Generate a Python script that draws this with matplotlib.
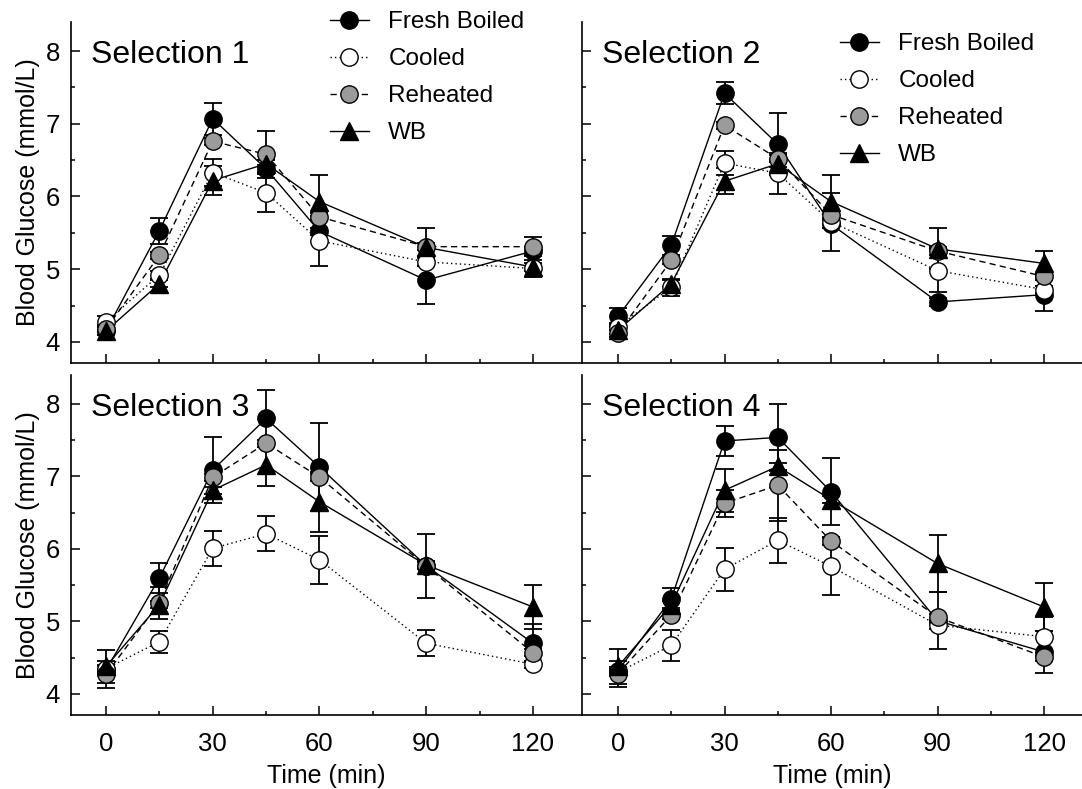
import matplotlib
matplotlib.use('Agg')
import matplotlib.pyplot as plt
from matplotlib.ticker import MultipleLocator
from matplotlib.lines import Line2D

plt.rcParams['font.family'] = ['Liberation Sans', 'DejaVu Sans']

# ---------------- data ----------------
time_min = [0, 15, 30, 45, 60, 90, 120]
series_names = ['Fresh Boiled', 'Cooled', 'Reheated', 'WB']
panel_titles = ['Selection 1', 'Selection 2', 'Selection 3', 'Selection 4']
x_ticks = [0, 30, 60, 90, 120]
y_ticks = [4, 5, 6, 7, 8]
x_label = 'Time (min)'
y_label = 'Blood Glucose (mmol/L)'

# Selection 1
s1_fresh = [4.15, 5.53, 7.07, 6.38, 5.52, 4.85, 5.25]
s1_cooled = [4.28, 4.92, 6.33, 6.05, 5.39, 5.10, 5.01]
s1_reheated = [4.18, 5.19, 6.76, 6.58, 5.72, 5.31, 5.31]
s1_wb = [4.15, 4.80, 6.22, 6.45, 5.93, 5.30, 5.03]
s1_fresh_sem = [0.05, 0.18, 0.22, 0.05, 0.05, 0.33, 0.05]
s1_cooled_sem = [0.08, 0.05, 0.19, 0.26, 0.34, 0.05, 0.12]
s1_reheated_sem = [0.05, 0.05, 0.05, 0.32, 0.05, 0.05, 0.13]
s1_wb_sem = [0.05, 0.05, 0.20, 0.05, 0.37, 0.26, 0.05]

# Selection 2
s2_fresh = [4.35, 5.33, 7.42, 6.72, 5.62, 4.55, 4.65]
s2_cooled = [4.21, 4.75, 6.46, 6.32, 5.65, 4.98, 4.72]
s2_reheated = [4.12, 5.12, 6.98, 6.52, 5.75, 5.25, 4.90]
s2_wb = [4.16, 4.80, 6.21, 6.45, 5.93, 5.28, 5.08]
s2_fresh_sem = [0.12, 0.13, 0.15, 0.43, 0.05, 0.05, 0.23]
s2_cooled_sem = [0.05, 0.12, 0.17, 0.28, 0.40, 0.30, 0.05]
s2_reheated_sem = [0.05, 0.05, 0.05, 0.05, 0.05, 0.05, 0.05]
s2_wb_sem = [0.05, 0.05, 0.18, 0.05, 0.37, 0.28, 0.17]

# Selection 3
s3_fresh = [4.33, 5.60, 7.09, 7.80, 7.13, 5.77, 4.70]
s3_cooled = [4.35, 4.72, 6.01, 6.21, 5.85, 4.70, 4.41]
s3_reheated = [4.27, 5.26, 6.99, 7.46, 6.99, 5.76, 4.57]
s3_wb = [4.38, 5.23, 6.81, 7.16, 6.65, 5.78, 5.20]
s3_fresh_sem = [0.05, 0.21, 0.45, 0.39, 0.61, 0.05, 0.26]
s3_cooled_sem = [0.05, 0.15, 0.24, 0.24, 0.33, 0.18, 0.05]
s3_reheated_sem = [0.19, 0.22, 0.05, 0.05, 0.05, 0.44, 0.05]
s3_wb_sem = [0.23, 0.05, 0.05, 0.29, 0.41, 0.05, 0.31]

# Selection 4
s4_fresh = [4.32, 5.31, 7.49, 7.54, 6.79, 5.01, 4.58]
s4_cooled = [4.30, 4.67, 5.72, 6.12, 5.76, 4.95, 4.79]
s4_reheated = [4.28, 5.09, 6.63, 6.88, 6.11, 5.06, 4.51]
s4_wb = [4.38, 5.23, 6.81, 7.14, 6.68, 5.80, 5.20]
s4_fresh_sem = [0.05, 0.15, 0.21, 0.46, 0.46, 0.39, 0.29]
s4_cooled_sem = [0.05, 0.21, 0.30, 0.31, 0.39, 0.05, 0.27]
s4_reheated_sem = [0.18, 0.05, 0.19, 0.49, 0.05, 0.05, 0.05]
s4_wb_sem = [0.24, 0.05, 0.30, 0.05, 0.05, 0.39, 0.33]

panels = [
    ([s1_fresh, s1_cooled, s1_reheated, s1_wb], [s1_fresh_sem, s1_cooled_sem, s1_reheated_sem, s1_wb_sem]),
    ([s2_fresh, s2_cooled, s2_reheated, s2_wb], [s2_fresh_sem, s2_cooled_sem, s2_reheated_sem, s2_wb_sem]),
    ([s3_fresh, s3_cooled, s3_reheated, s3_wb], [s3_fresh_sem, s3_cooled_sem, s3_reheated_sem, s3_wb_sem]),
    ([s4_fresh, s4_cooled, s4_reheated, s4_wb], [s4_fresh_sem, s4_cooled_sem, s4_reheated_sem, s4_wb_sem]),
]

# ---------------- styles ----------------
GRAY = '#9b9b9b'
styles = [
    dict(marker='o', mfc='black', ls='-'),
    dict(marker='o', mfc='white', ls=(0, (1, 2.2))),
    dict(marker='o', mfc=GRAY, ls=(0, (4.5, 3))),
    dict(marker='^', mfc='black', ls='-'),
]
MS = 12.5
LW = 1.0
FS_TICK = 18.5
FS_LABEL = 18
FS_TITLE = 23
FS_LEG = 17.5

W, H = 1082, 789
fig = plt.figure(figsize=(W / 100, H / 100), dpi=100)

def px_axes(l, t, r, b):
    return fig.add_axes([l / W, 1 - b / H, (r - l) / W, (b - t) / H])

axes = [
    px_axes(71, 22, 582, 363),
    px_axes(582, 22, 1082, 363),
    px_axes(71, 375, 582, 715),
    px_axes(582, 375, 1082, 715),
]
xlims = [(-9.84, 133.8), (-10.14, 130.7), (-9.84, 133.8), (-10.14, 130.7)]

for k, ax in enumerate(axes):
    ys, es = panels[k]
    for i, (y, e) in enumerate(zip(ys, es)):
        ax.errorbar(time_min, y, yerr=e, fmt='none', ecolor='black',
                    elinewidth=1.3, capsize=6.2, capthick=1.3, zorder=2)
        ax.plot(time_min, y, color='black', lw=LW, ls=styles[i]['ls'], zorder=3)
    for i, y in enumerate(ys):
        ax.plot(time_min, y, ls='none', marker=styles[i]['marker'], ms=MS,
                mfc=styles[i]['mfc'], mec='black', mew=1.0, zorder=5 + i)

    ax.set_xlim(*xlims[k])
    ax.set_ylim(3.71, 8.40)
    ax.set_xticks(x_ticks)
    ax.xaxis.set_minor_locator(MultipleLocator(15))
    ax.set_yticks(y_ticks)
    ax.yaxis.set_minor_locator(MultipleLocator(0.5))
    ax.tick_params(which='major', direction='in', length=6.5, width=1.1,
                   labelsize=FS_TICK, pad=8)
    ax.tick_params(which='minor', direction='in', length=3.2, width=1.1)
    ax.tick_params(axis='x', which='major', pad=12)
    for s in ['top', 'right']:
        ax.spines[s].set_visible(False)
    for s in ['left', 'bottom']:
        ax.spines[s].set_linewidth(1.2)
    if k in (1, 3):
        ax.tick_params(labelleft=False)
    else:
        ax.set_ylabel(y_label, fontsize=FS_LABEL, labelpad=4)
    if k in (0, 1):
        ax.tick_params(labelbottom=False)
    else:
        ax.set_xlabel(x_label, fontsize=FS_LABEL, labelpad=6)
    ax.patch.set_alpha(0)
    ax.text(0.04, 0.88, panel_titles[k], transform=ax.transAxes,
            fontsize=FS_TITLE, va='baseline', ha='left', zorder=20)

# legends
def make_handles():
    hs = []
    for st in styles:
        hs.append(Line2D([], [], color='black', lw=LW, ls=st['ls'], marker=st['marker'],
                         ms=MS, mfc=st['mfc'], mec='black', mew=1.0))
    return hs

for ax, (lx, ty) in zip(axes[:2], [(330, 11), (840, 33)]):
    leg = ax.legend(make_handles(), series_names, loc='upper left',
                    bbox_to_anchor=(lx / W, 1 - ty / H), bbox_transform=fig.transFigure,
                    frameon=False, fontsize=FS_LEG, handlelength=1.6,
                    handletextpad=0.8, labelspacing=0.62, borderpad=0,
                    borderaxespad=0)
    leg.set_zorder(30)

fig.savefig('out.png', dpi=100)
